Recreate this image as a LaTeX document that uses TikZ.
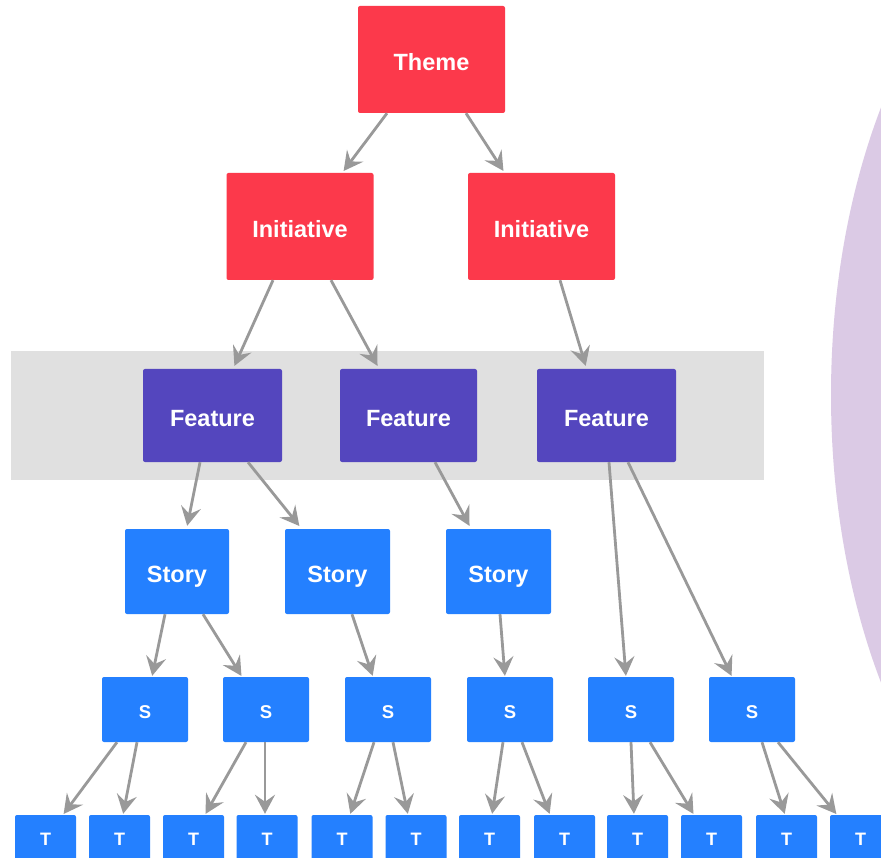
\documentclass[tikz,border=0pt]{standalone}
\usepackage{fontspec}
\setmainfont{Liberation Sans}
\usetikzlibrary{arrows.meta}
\definecolor{redbox}{HTML}{FC394B}
\definecolor{purplebox}{HTML}{5446BE}
\definecolor{bluebox}{HTML}{2480FF}
\definecolor{bandgray}{HTML}{E0E0E0}
\definecolor{arrgray}{HTML}{999999}
\definecolor{ellpurple}{HTML}{DBCAE5}
\tikzset{
  box/.style={fill=#1, text=white, rounded corners=2pt, inner sep=0pt,
    font=\bfseries\fontsize{23.5}{26}\selectfont, text height=21.5pt, text depth=0pt},
  bigbox/.style={box=#1, minimum width=147pt, minimum height=107pt},
  featbox/.style={box=purplebox, minimum width=139pt, minimum height=93pt},
  storybox/.style={box=bluebox, minimum width=105pt, minimum height=85pt},
  sbox/.style={box=bluebox, minimum width=86pt, minimum height=65pt,
    font=\bfseries\fontsize{18.5}{20}\selectfont, text height=17pt},
  tbox/.style={box=bluebox, minimum width=61pt, minimum height=50pt,
    font=\bfseries\fontsize{18}{20}\selectfont, text height=11pt},
  arr/.style={draw=arrgray, line width=2.8pt,
    -{Stealth[length=19pt, width=20pt, inset=7pt]}, shorten >=1pt},
}
\begin{document}
\begin{tikzpicture}[x=1pt, y=-1pt]
\useasboundingbox (0,0) rectangle (881,858);
\clip (0,0) rectangle (881,858);
\fill[white] (0,0) rectangle (881,858);
% background shapes
\fill[ellpurple] (1131,395) ellipse [x radius=300pt, y radius=520pt];
\fill[bandgray] (11,351) rectangle (764,480);
% nodes
\node[bigbox=redbox] (theme) at (431.5,59.5) {Theme};
\node[bigbox=redbox] (init1) at (300,226.5) {Initiative};
\node[bigbox=redbox] (init2) at (541.5,226.5) {Initiative};
\node[featbox] (feat1) at (212.5,415.5) {Feature};
\node[featbox, minimum width=137pt] (feat2) at (408.5,415.5) {Feature};
\node[featbox] (feat3) at (606.5,415.5) {Feature};
\node[storybox, minimum width=104pt] (story1) at (177,571.5) {Story};
\node[storybox] (story2) at (337.5,571.5) {Story};
\node[storybox] (story3) at (498.5,571.5) {Story};
\node[sbox] (s1) at (145,709.5) {S};
\node[sbox] (s2) at (266,709.5) {S};
\node[sbox] (s3) at (388,709.5) {S};
\node[sbox] (s4) at (510,709.5) {S};
\node[sbox] (s5) at (631,709.5) {S};
\node[sbox] (s6) at (752,709.5) {S};
\foreach \i/\x in {1/45.5,2/119.5,3/193.5,4/267,5/342,6/416,7/489.5,8/564.5,9/637.5,10/711.5,11/786.5,12/860.5}
  \node[tbox] (t\i) at (\x,840) {T};
% connectors
\draw[arr] ([xshift=-44.5pt]theme.south) -- ([xshift=43pt,yshift=1pt]init1.north);
\draw[arr] ([xshift=34.5pt]theme.south) -- ([xshift=-37.5pt,yshift=1pt]init2.north);
\draw[arr] ([xshift=-27pt]init1.south) -- ([xshift=21.5pt,yshift=2pt]feat1.north);
\draw[arr] ([xshift=31pt]init1.south) -- ([xshift=-30.5pt,yshift=2pt]feat2.north);
\draw[arr] ([xshift=18.5pt]init2.south) -- ([xshift=-20.5pt,yshift=2pt]feat3.north);
\draw[arr] ([xshift=-12.5pt]feat1.south) -- ([xshift=10pt,yshift=2pt]story1.north);
\draw[arr] ([xshift=35.5pt]feat1.south) -- ([xshift=-37.5pt,yshift=2pt]story2.north);
\draw[arr] ([xshift=26.5pt]feat2.south) -- ([xshift=-28.5pt,yshift=2pt]story3.north);
\draw[arr] ([xshift=2.5pt]feat3.south) -- ([xshift=-5pt]s5.north);
\draw[arr] ([xshift=21.5pt]feat3.south) -- ([xshift=-20pt]s6.north);
\draw[arr] ([xshift=-12pt]story1.south) -- ([xshift=7pt]s1.north);
\draw[arr] ([xshift=26pt]story1.south) -- ([xshift=-24pt]s2.north);
\draw[arr] ([xshift=14.5pt]story2.south) -- ([xshift=-15pt]s3.north);
\draw[arr] ([xshift=1.5pt]story3.south) -- ([xshift=-5pt]s4.north);
\draw[arr] ([xshift=-28pt]s1.south) -- ([xshift=17.5pt]t1.north);
\draw[arr] ([xshift=-8pt]s1.south) -- ([xshift=3.5pt]t2.north);
\draw[arr] ([xshift=-20pt]s2.south) -- ([xshift=11.5pt]t3.north);
\draw[arr] ([xshift=-1pt]s2.south) -- ([xshift=-2pt]t4.north);
\draw[arr] ([xshift=-14pt]s3.south) -- ([xshift=8pt]t5.north);
\draw[arr] ([xshift=5pt]s3.south) -- ([xshift=-8pt]t6.north);
\draw[arr] ([xshift=-7pt]s4.south) -- ([xshift=2.5pt]t7.north);
\draw[arr] ([xshift=12pt]s4.south) -- ([xshift=-14.5pt]t8.north);
\draw[arr] ([xshift=0pt]s5.south) -- ([xshift=-3.5pt]t9.north);
\draw[arr] ([xshift=19pt]s5.south) -- ([xshift=-17.5pt]t10.north);
\draw[arr] ([xshift=10pt]s6.south) -- ([xshift=-1.5pt]t11.north);
\draw[arr] ([xshift=26pt]s6.south) -- ([xshift=-23.5pt]t12.north);
\end{tikzpicture}
\end{document}
